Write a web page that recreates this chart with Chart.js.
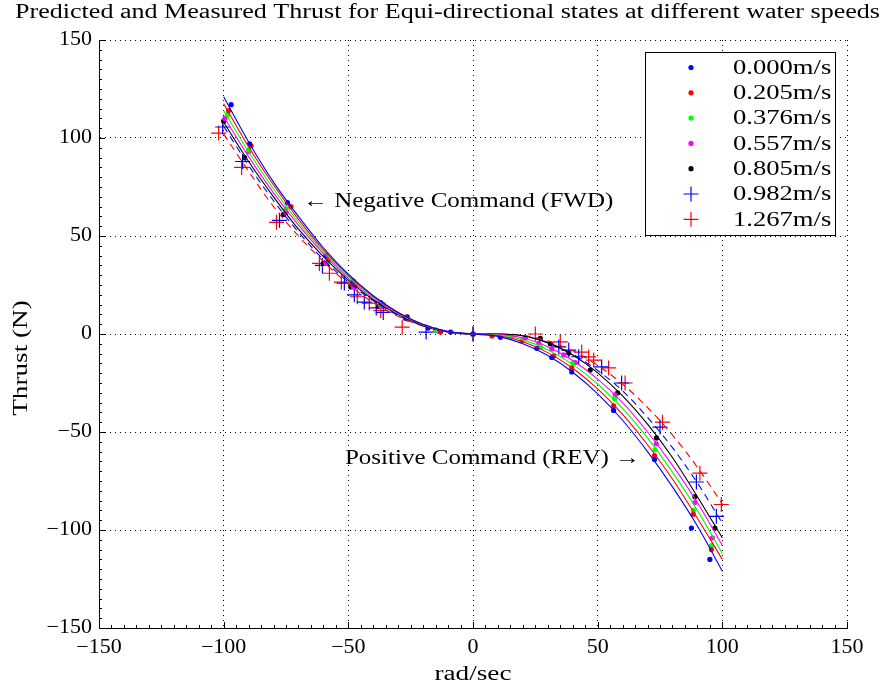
<!DOCTYPE html>
<html>
<head>
<meta charset="utf-8">
<script src="https://cdn.jsdelivr.net/npm/chart.js@4/dist/chart.umd.min.js"></script>
<style>
  html, body { margin: 0; padding: 0; background: #fff; }
  canvas { display: block; }
</style>
</head>
<body>
<canvas id="thrust-chart" width="884" height="690"></canvas>
<script>
const titleText = "Predicted and Measured Thrust for Equi-directional states at different water speeds";
const xLabel = "rad/sec";
const yLabel = "Thrust (N)";
const speedLabels = ["0.000m/s", "0.205m/s", "0.376m/s", "0.557m/s", "0.805m/s", "0.982m/s", "1.267m/s"];
const seriesColors = ["#0000ff", "#ff0000", "#00ff00", "#ff00ff", "#000000", "#0000ff", "#ff0000"];
const tickValues = [-150, -100, -50, 0, 50, 100, 150];
const noteFwd = "\u2190 Negative Command (FWD)";
const noteRev = "Positive Command (REV) \u2192";

// fitted curves, read at every 10 rad/sec
const curveW = [-100, -90, -80, -70, -60, -50, -40, -30, -20, -10, 0, 10, 20, 30, 40, 50, 60, 70, 80, 90, 100];
const fit000 = [121, 98, 77.5, 60, 44, 30.5, 19.5, 11, 4.9, 1.2, 0, -1.2, -5, -11, -19.5, -30.5, -44, -60, -78, -98, -121];
const fit205 = [117.5, 95.5, 76, 58.5, 43, 30, 19.2, 10.8, 4.8, 1.2, 0, -0.8, -4, -9.5, -17.5, -28, -41, -56.5, -74, -94, -115];
const fit376 = [114, 93, 74, 57, 42, 29.3, 18.8, 10.6, 4.7, 1.2, 0, -0.5, -3, -8, -15.5, -25.5, -38, -53, -70.5, -90, -112];
const fit557 = [111, 90.5, 72, 55.5, 41, 28.5, 18.2, 10.3, 4.6, 1.1, 0, -0.3, -2, -6.5, -13.5, -23, -35, -50, -67, -86, -108];
const fit805 = [108, 88, 70, 53.5, 39.5, 27.5, 17.5, 10, 4.4, 1.1, 0, 0, -0.9, -4.4, -10.7, -19.8, -31.6, -46, -63, -83, -104];
const fit982 = [106, 86, 68, 52, 38, 26.5, 17, 9.5, 4.2, 1, 0, 0, -1, -4.4, -10.3, -18.6, -29, -42.5, -58, -76, -96.5];
const fit1267 = [102, 83, 65, 50, 37, 25.5, 16, 9, 4, 1, 0, 0, -0.7, -3.5, -8.6, -16, -25.6, -37.5, -51.6, -68, -86.7];

// measured points
const measW000 = [-97, -89.6, -74.4, -59, -48, -37, -27, -18, -9, 0, 11, 25.6, 31.6, 39.6, 56.4, 72.8, 87.6, 95];
const measT000 = [117, 97, 67, 40, 27, 16, 8, 3, 1, 0, -1.7, -7.3, -12, -19.4, -39, -64, -99, -115];
const measW205 = [-98, -89, -73, -58, -47, -36, -27, -13, 0, 7.6, 19.6, 32.4, 39.6, 56.4, 72.8, 88.4, 95.6];
const measT205 = [114, 96, 65, 38, 25, 15, 8.5, 1, 0, -1, -3.5, -11.2, -17.3, -36.7, -62, -92, -110];
const measW376 = [-98.5, -90, -75, -58, -47, -37, -27, -15, 0, 15.6, 27, 40, 56.8, 73, 88.4, 95.6];
const measT376 = [112, 94, 64, 37, 25, 15, 8, 2, 0, -1.5, -6.6, -14.8, -33, -59, -90, -108];
const measW557 = [-99.5, -90, -75, -59, -48, -37, -26, -14, 0, 21, 26.4, 31.6, 36.4, 41, 57, 73.5, 89, 96];
const measT557 = [110, 93, 62, 36, 24, 14, 7.5, 1.5, 0, -2, -4.6, -7.7, -10.7, -14.6, -31, -56, -86, -104];
const measW805 = [-100, -91.6, -76, -60, -49, -38, -26.4, -15, 0, 27, 31, 38.4, 47, 58, 73.6, 89, 97];
const measT805 = [108.6, 90, 61, 36, 24, 14, 8.7, 2, 0, -2.2, -5, -9.7, -18.4, -30, -53, -83, -99];
const measW982 = [-100.4, -92.4, -77.6, -60.4, -51.6, -47.6, -43.6, -38.8, -36, -18.8, 0, 34.4, 38.4, 42.4, 51.6, 59.6, 75, 89.6, 97.6];
const measT982 = [105.6, 88, 58, 35, 26, 20, 16.3, 13.3, 11, 1, 0, -6.6, -8.2, -11.6, -16.8, -25, -47.5, -75.5, -93];
const measW1267 = [-102, -92.8, -78.8, -61.6, -57.6, -52.8, -46.4, -41.6, -37, -28.4, 0, 25, 35, 43.6, 46.4, 48.4, 54.4, 61, 76, 91, 99.6];
const measT1267 = [102.5, 85, 57, 36, 31, 26.5, 19, 15.8, 12, 3.5, 0, 0, -4, -9.2, -11.7, -13.3, -17.3, -25, -45, -71, -87];

const fits = [fit000, fit205, fit376, fit557, fit805, fit982, fit1267];
const measW = [measW000, measW205, measW376, measW557, measW805, measW982, measW1267];
const measT = [measT000, measT205, measT376, measT557, measT805, measT982, measT1267];

const serif = "'Liberation Serif', 'DejaVu Serif', serif";

function zip(xs, ys) {
    return xs.map(function (x, i) { return { x: x, y: ys[i] }; });
}

function minusSign(value) {
    return String(value).replace("-", "\u2212");
}

// the original uses a wide TeX font, so stretch the text sideways
function wideText(ctx, text, x, y, align, stretch) {
    let w = ctx.measureText(text).width * stretch;
    let left = x;
    if (align === "center") left = x - w / 2;
    if (align === "right") left = x - w;
    ctx.save();
    ctx.translate(left, y);
    ctx.scale(stretch, 1);
    ctx.textAlign = "left";
    ctx.fillText(text, 0, 0);
    ctx.restore();
}

let datasets = [];
fits.forEach(function (fit, i) {
    datasets.push({
        label: "fit " + speedLabels[i],
        data: zip(curveW, fit),
        showLine: true,
        borderColor: seriesColors[i],
        borderWidth: 1.1,
        borderDash: i >= 5 ? [7, 5] : [],
        pointRadius: 0,
        cubicInterpolationMode: "monotone",
        fill: false,
    });
});
measW.forEach(function (ws, i) {
    let isCross = i >= 5;
    datasets.push({
        label: speedLabels[i],
        data: zip(ws, measT[i]),
        showLine: false,
        pointStyle: isCross ? "cross" : "circle",
        pointRadius: isCross ? 7.5 : 2.6,
        pointBorderWidth: isCross ? 1.2 : 0,
        pointBorderColor: seriesColors[i],
        pointBackgroundColor: seriesColors[i],
    });
});

// tick marks, texts, legend
const decorations = {
    id: "decorations",
    afterDraw: function (chart) {
        const ctx = chart.ctx;
        const xs = chart.scales.x;
        const ys = chart.scales.y;
        const area = chart.chartArea;
        ctx.save();
        ctx.strokeStyle = "#000";
        ctx.lineWidth = 1;
        ctx.beginPath();
        for (let v = -150; v <= 150; v += 5) {
            let len = v % 50 === 0 ? 6 : 3;
            let px = Math.round(xs.getPixelForValue(v)) + 0.5;
            ctx.moveTo(px, area.bottom);
            ctx.lineTo(px, area.bottom - len);
            let py = Math.round(ys.getPixelForValue(v)) + 0.5;
            ctx.moveTo(area.left, py);
            ctx.lineTo(area.left + len, py);
        }
        ctx.stroke();

        ctx.fillStyle = "#000";
        ctx.font = "20px " + serif;
        ctx.textBaseline = "middle";
        tickValues.forEach(function (v) {
            wideText(ctx, minusSign(v), area.left - 7, ys.getPixelForValue(v), "right", 1.1);
            wideText(ctx, minusSign(v), xs.getPixelForValue(v), 648, "center", 1.1);
        });

        let tw = ctx.measureText(titleText).width;
        wideText(ctx, titleText, 15, 13, "left", 865 / tw);
        wideText(ctx, xLabel, (area.left + area.right) / 2, 675, "center", 1.36);
        ctx.save();
        ctx.translate(22, 358);
        ctx.rotate(-Math.PI / 2);
        wideText(ctx, yLabel, 0, 0, "center", 1.36);
        ctx.restore();

        wideText(ctx, noteFwd, xs.getPixelForValue(-68.2), ys.getPixelForValue(67.5), "left", 1.25);
        wideText(ctx, noteRev, xs.getPixelForValue(67), ys.getPixelForValue(-63.8), "right", 1.25);

        // legend box
        let bx = 645.5, by = 52.5, bw = 190, bh = 183;
        ctx.fillStyle = "#fff";
        ctx.fillRect(bx, by, bw, bh);
        ctx.strokeStyle = "#000";
        ctx.strokeRect(bx, by, bw, bh);
        speedLabels.forEach(function (label, i) {
            let cy = by + 15 + i * 25.3;
            ctx.fillStyle = seriesColors[i];
            ctx.strokeStyle = seriesColors[i];
            if (i >= 5) {
                ctx.lineWidth = 1.2;
                ctx.beginPath();
                ctx.moveTo(691 - 7.5, cy);
                ctx.lineTo(691 + 7.5, cy);
                ctx.moveTo(691, cy - 7.5);
                ctx.lineTo(691, cy + 7.5);
                ctx.stroke();
            } else {
                ctx.beginPath();
                ctx.arc(691, cy, 2.6, 0, Math.PI * 2);
                ctx.fill();
            }
            ctx.fillStyle = "#000";
            wideText(ctx, label, 733, cy + 1, "left", 1.33);
        });
        ctx.restore();
    },
};

const chart = new Chart(document.getElementById("thrust-chart"), {
    type: "scatter",
    data: { datasets: datasets },
    options: {
        responsive: false,
        animation: false,
        devicePixelRatio: 1,
        layout: { padding: { left: 0, top: 40, right: 37, bottom: 0 } },
        plugins: {
            legend: { display: false },
            tooltip: { enabled: false },
        },
        scales: {
            x: {
                type: "linear",
                min: -150,
                max: 150,
                afterFit: function (scale) { scale.height = 62; },
                ticks: { stepSize: 50, display: false },
                grid: { color: "#000", lineWidth: 1, drawTicks: false },
                border: { display: true, color: "#000", width: 1, dash: [1, 4] },
            },
            y: {
                type: "linear",
                min: -150,
                max: 150,
                afterFit: function (scale) { scale.width = 99; },
                ticks: { stepSize: 50, display: false },
                grid: { color: "#000", lineWidth: 1, drawTicks: false },
                border: { display: true, color: "#000", width: 1, dash: [1, 4] },
            },
        },
    },
    plugins: [decorations],
});
</script>
</body>
</html>
